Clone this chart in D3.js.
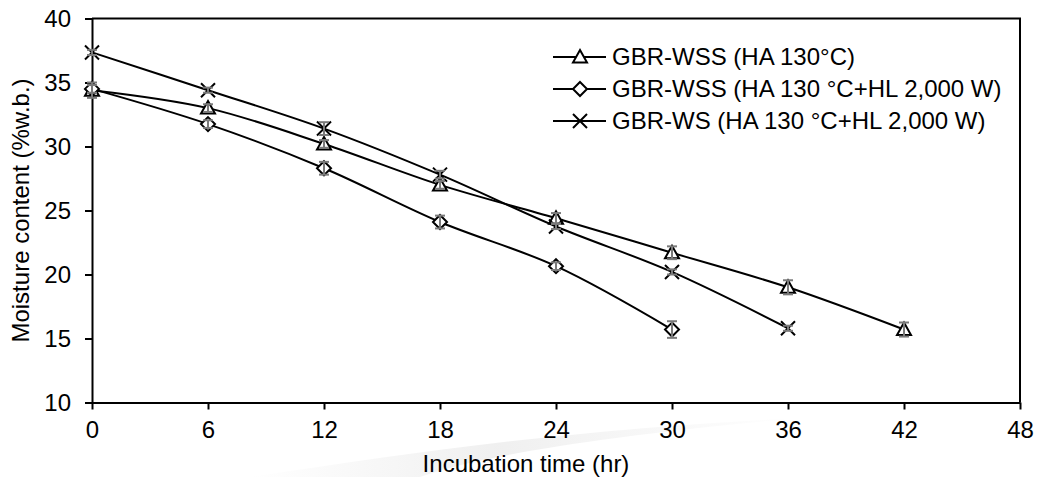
<!DOCTYPE html>
<html>
<head>
<meta charset="utf-8">
<script src="https://cdn.jsdelivr.net/npm/d3@7/dist/d3.min.js"></script>
<style>
  html, body { margin: 0; padding: 0; background: #fff; }
  svg { display: block; font-family: "Liberation Sans", Arial, sans-serif; }
</style>
</head>
<body>
<svg id="chart" width="1040" height="477"></svg>
<script>
// Incubation time (hr)
const hours = [0, 6, 12, 18, 24, 30, 36, 42];

// Moisture content (%w.b.) per treatment, with standard deviations
const wssHA = [34.4, 33.0, 30.2, 27.0, 24.4, 21.7, 19.0, 15.7];
const wssHAerr = [0.6, 0.3, 0.3, 0.3, 0.4, 0.5, 0.55, 0.55];

const wssHAHL = [34.5, 31.75, 28.3, 24.1, 20.65, 15.7];
const wssHAHLerr = [0.3, 0.3, 0.5, 0.5, 0.3, 0.65];

const wsHAHL = [37.35, 34.4, 31.4, 27.8, 23.75, 20.2, 15.8];
const wsHAHLerr = [0.2, 0.2, 0.5, 0.3, 0.2, 0.2, 0.2];

const seriesNames = [
  "GBR-WSS (HA 130°C)",
  "GBR-WSS (HA 130 °C+HL 2,000 W)",
  "GBR-WS (HA 130 °C+HL 2,000 W)"
];
const markerKinds = ["triangle", "diamond", "cross"];

const xTicks = [0, 6, 12, 18, 24, 30, 36, 42, 48];
const yTicks = [10, 15, 20, 25, 30, 35, 40];

const series = [
  { name: seriesNames[0], marker: markerKinds[0], values: wssHA, err: wssHAerr },
  { name: seriesNames[1], marker: markerKinds[1], values: wssHAHL, err: wssHAHLerr },
  { name: seriesNames[2], marker: markerKinds[2], values: wsHAHL, err: wsHAHLerr }
].map(s => ({ ...s, points: s.values.map((v, i) => ({ t: hours[i], v, e: s.err[i] })) }));

const svg = d3.select("#chart");
const margin = { left: 92, right: 20, top: 18.5, bottom: 74.5 };
const W = 1040, H = 477;

const x = d3.scaleLinear().domain([0, 48]).range([margin.left, W - margin.right]);
const y = d3.scaleLinear().domain([10, 40]).range([H - margin.bottom, margin.top]);

// faint swoosh in the lower background
const defs = svg.append("defs");
const grad = defs.append("linearGradient").attr("id", "swoosh").attr("x1", "0").attr("x2", "1").attr("y1", "0").attr("y2", "0");
grad.append("stop").attr("offset", "0").attr("stop-color", "#ffffff");
grad.append("stop").attr("offset", "0.45").attr("stop-color", "#e9e9e9");
grad.append("stop").attr("offset", "1").attr("stop-color", "#ffffff");
svg.append("path")
  .attr("d", "M 250 477 C 420 452, 560 430, 800 418 C 600 436, 470 458, 420 477 Z")
  .attr("fill", "url(#swoosh)")
  .attr("opacity", 0.7);

const fontSize = 24;

// frame: top and right edges
svg.append("path")
  .attr("d", `M${x(0)},${y(40)} H${x(48)} V${y(10)}`)
  .attr("fill", "none").attr("stroke", "#000").attr("stroke-width", 2);

// axes
const xAxis = svg.append("g")
  .attr("transform", `translate(0,${y(10)})`)
  .call(d3.axisBottom(x).tickValues(xTicks).tickSizeOuter(0).tickSizeInner(7).tickPadding(11));
const yAxis = svg.append("g")
  .attr("transform", `translate(${x(0)},0)`)
  .call(d3.axisLeft(y).tickValues(yTicks).tickSizeOuter(0).tickSizeInner(7).tickPadding(14));

[xAxis, yAxis].forEach(g => {
  g.select(".domain").attr("stroke", "#000").attr("stroke-width", 2);
  g.selectAll(".tick line").attr("stroke", "#000").attr("stroke-width", 2);
  g.selectAll(".tick text").attr("fill", "#000").style("font-size", fontSize + "px")
    .style("font-family", '"Liberation Sans", Arial, sans-serif');
});

// axis titles
svg.append("text")
  .attr("x", (x(0) + x(48)) / 2 - 30).attr("y", 472)
  .attr("text-anchor", "middle")
  .style("font-size", fontSize + "px")
  .text("Incubation time (hr)");
svg.append("text")
  .attr("transform", `translate(29,${(y(10) + y(40)) / 2}) rotate(-90)`)
  .attr("text-anchor", "middle")
  .style("font-size", fontSize + "px")
  .text("Moisture content (%w.b.)");

// smoothed series lines
const line = d3.line().x(d => x(d.t)).y(d => y(d.v)).curve(d3.curveCatmullRom.alpha(0.5));
svg.append("g").selectAll("path").data(series).join("path")
  .attr("d", s => line(s.points))
  .attr("fill", "none").attr("stroke", "#000").attr("stroke-width", 2);

// marker shapes
function drawMarker(g, kind) {
  if (kind === "triangle") {
    g.append("path").attr("d", "M0,-7 L7,5.5 L-7,5.5 Z")
      .attr("fill", "#fff").attr("stroke", "#000").attr("stroke-width", 2);
  } else if (kind === "diamond") {
    g.append("path").attr("d", "M0,-7 L7,0 L0,7 L-7,0 Z")
      .attr("fill", "#fff").attr("stroke", "#000").attr("stroke-width", 2);
  } else {
    g.append("path").attr("d", "M-7,-7 L7,7 M-7,7 L7,-7")
      .attr("fill", "none").attr("stroke", "#000").attr("stroke-width", 2);
  }
}

series.forEach(s => {
  const pts = svg.append("g").selectAll("g").data(s.points).join("g")
    .attr("transform", d => `translate(${x(d.t)},${y(d.v)})`);
  pts.each(function () { drawMarker(d3.select(this), s.marker); });
});

// error bars drawn above the markers
series.forEach(s => {
  const eg = svg.append("g").attr("stroke", "#7a7a7a").attr("stroke-width", 2);
  s.points.forEach(d => {
    const cx = x(d.t), y1 = y(d.v + d.e), y2 = y(d.v - d.e);
    eg.append("line").attr("x1", cx).attr("x2", cx).attr("y1", y1).attr("y2", y2);
    eg.append("line").attr("x1", cx - 5).attr("x2", cx + 5).attr("y1", y1).attr("y2", y1);
    eg.append("line").attr("x1", cx - 5).attr("x2", cx + 5).attr("y1", y2).attr("y2", y2);
  });
});

// legend
const legend = svg.append("g");
series.forEach((s, i) => {
  const ly = 57 + i * 32;
  const row = legend.append("g");
  row.append("line").attr("x1", 553).attr("x2", 606).attr("y1", ly).attr("y2", ly)
    .attr("stroke", "#000").attr("stroke-width", 2);
  const m = row.append("g").attr("transform", `translate(580,${ly})`);
  drawMarker(m, s.marker);
  row.append("text").attr("x", 612).attr("y", ly).attr("dy", "0.35em")
    .style("font-size", fontSize + "px").text(s.name);
});
</script>
</body>
</html>
